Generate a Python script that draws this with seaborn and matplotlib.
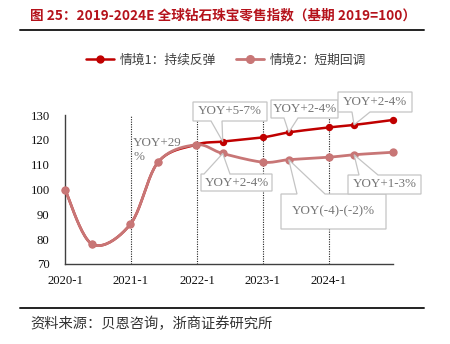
import numpy as np
import pandas as pd
import matplotlib
matplotlib.use("Agg")
import matplotlib.pyplot as plt
from matplotlib.patches import Polygon
from matplotlib.lines import Line2D
import seaborn as sns

# ---------------- data ----------------
period_pos = [0, 0.41, 0.99, 1.41, 1.98, 2.39, 3.0, 3.39, 4.0, 4.38, 4.97]
scenario1 = [100, 78, 86, 111, 118, 119.3, 121, 123, 125, 126, 128]
scenario2 = [100, 78, 86, 111, 118, 114.5, 111, 112, 113, 114, 115]
tick_pos = [0, 1, 2, 3, 4]
tick_labels = ["2020-1", "2021-1", "2022-1", "2023-1", "2024-1"]
series_names = ["情境1：持续反弹", "情境2：短期回调"]
title = "图 25：2019-2024E 全球钻石珠宝零售指数（基期 2019=100）"
source = "资料来源：贝恩咨询，浙商证券研究所"
note_29 = "YOY+29\n%"
callout_texts = ["YOY+5-7%", "YOY+2-4%", "YOY+2-4%", "YOY+2-4%", "YOY(-4)-(-2)%", "YOY+1-3%"]
callout_targets = [(5, 1), (7, 1), (9, 1), (5, 2), (7, 2), (9, 2)]  # (index, series)

RED = "#C00000"
PINK = "#C87676"
GRAY_TXT = "#767676"

sns.set_theme(style="white")
plt.rcParams["font.family"] = ["Liberation Serif", "Noto Sans CJK SC", "DejaVu Sans"]

W, H = 450, 344
fig = plt.figure(figsize=(W / 100, H / 100), dpi=100)
fig.patch.set_facecolor("white")

def fx(px):
    return px / W

def fy(py):
    return 1 - py / H

ax = fig.add_axes([fx(65), fy(264), (393 - 65) / W, (264 - 115) / H])
ax.set_facecolor("white")


def smooth(xs, ys, n=24):
    P = np.column_stack([xs, ys]).astype(float)
    out = []
    for i in range(len(P) - 1):
        p0 = P[i - 1] if i > 0 else P[i]
        p1, p2 = P[i], P[i + 1]
        p3 = P[i + 2] if i + 2 < len(P) else P[i + 1]
        b1 = p1 + (p2 - p0) / 6
        b2 = p2 - (p3 - p1) / 6
        t = np.linspace(0, 1, n)[:, None]
        seg = (1 - t) ** 3 * p1 + 3 * (1 - t) ** 2 * t * b1 + 3 * (1 - t) * t ** 2 * b2 + t ** 3 * p2
        out.append(seg if i == 0 else seg[1:])
    return np.vstack(out)

# dotted verticals
for xv in tick_pos[1:]:
    ax.plot([xv, xv], [70, 130], ls=(0, (1, 1.2)), color="#222222", lw=0.8, zorder=1)

series = [(scenario1, RED, 1.8, 28), (scenario2, PINK, 2.0, 36)]
for vals, col, lw, ms in series:
    sm = smooth(period_pos, vals)
    dfl = pd.DataFrame({"x": sm[:, 0], "y": sm[:, 1]})
    sns.lineplot(data=dfl, x="x", y="y", sort=False, estimator=None, color=col,
                 lw=lw, ax=ax, zorder=3, legend=False)
    dfp = pd.DataFrame({"x": period_pos, "y": vals})
    sns.scatterplot(data=dfp, x="x", y="y", color=col, s=ms, edgecolor=col,
                    linewidth=0, ax=ax, zorder=4, legend=False, clip_on=False)

ax.set_xlim(0, 4.97)
ax.set_ylim(70, 130)
ax.set_yticks(range(70, 131, 10))
ax.set_xticks(tick_pos)
ax.set_xticklabels(tick_labels)
ax.set_xlabel("")
ax.set_ylabel("")
for s in ["top", "right"]:
    ax.spines[s].set_visible(False)
for s in ["left", "bottom"]:
    ax.spines[s].set_color("#404040")
    ax.spines[s].set_linewidth(1.0)
ax.tick_params(axis="y", direction="out", length=3, width=0.8, color="#404040",
               pad=8, labelsize=9.2, labelcolor="#111111")
ax.tick_params(axis="x", direction="in", length=4, width=0.8, color="#404040",
               pad=8, labelsize=9.2, labelcolor="#111111")
ax.grid(False)
for lab in ax.get_xticklabels() + ax.get_yticklabels():
    lab.set_fontfamily("Liberation Serif")

fig.canvas.draw()


def data_to_px(x, y):
    dx, dy = ax.transData.transform((x, y))
    return dx, H - dy


def callout(text, box, base, side, tip):
    x0, y0, x1, y1 = box
    bx0, bx1 = base
    tx, ty = tip
    if side == "bottom":
        pts = [(x0, y0), (x1, y0), (x1, y1), (bx1, y1), (tx, ty), (bx0, y1), (x0, y1)]
    else:
        pts = [(x0, y0), (bx0, y0), (tx, ty), (bx1, y0), (x1, y0), (x1, y1), (x0, y1)]
    poly = Polygon([(fx(a), fy(b)) for a, b in pts], closed=True, transform=fig.transFigure,
                   facecolor="white", edgecolor="#c4c4c4", lw=0.9, zorder=5)
    fig.add_artist(poly)
    fig.text(fx((x0 + x1) / 2), fy((y0 + y1) / 2), text, ha="center", va="center",
             fontsize=9.4, color=GRAY_TXT, family="Liberation Serif", zorder=6)

boxes = [
    ((193, 102, 267, 121), (211, 222), "bottom"),
    ((271, 100, 338, 118), (284, 298), "bottom"),
    ((338, 92, 412, 112), (352, 370), "bottom"),
    ((201, 174, 272, 191), (204, 230), "top"),
    ((281, 194, 386, 229), (297, 325), "top"),
    ((348, 175, 421, 194), (359, 378), "top"),
]
all_series = {1: scenario1, 2: scenario2}
for txt, (idx, sid), (box, base, side) in zip(callout_texts, callout_targets, boxes):
    tip = data_to_px(period_pos[idx], all_series[sid][idx])
    callout(txt, box, base, side, tip)

fig.text(fx(133), fy(137), note_29, ha="left", va="top", fontsize=9.4, color=GRAY_TXT,
         family="Liberation Serif", linespacing=1.25, zorder=6)

# legend
handles = [Line2D([], [], color=RED, lw=1.8, marker="o", markersize=5),
           Line2D([], [], color=PINK, lw=2.0, marker="o", markersize=5.5)]
leg = fig.legend(handles, series_names, loc="center", bbox_to_anchor=(fx(226), fy(60)),
                 ncol=2, frameon=False, handlelength=2.2, handletextpad=0.4,
                 columnspacing=1.6, prop={"family": ["Noto Sans CJK SC", "DejaVu Sans"], "size": 9.2})
for t in leg.get_texts():
    t.set_color("#404040")

# title and rules
fig.text(fx(30), fy(15), title, ha="left", va="center", fontsize=9.8, fontweight="bold",
         color="#B5121B", family=["Noto Sans CJK SC", "DejaVu Sans"])
fig.add_artist(Line2D([fx(20), fx(424)], [fy(30), fy(30)], color="#222222", lw=1.4,
                      transform=fig.transFigure))
fig.add_artist(Line2D([fx(20), fx(424)], [fy(308), fy(308)], color="#222222", lw=1.4,
                      transform=fig.transFigure))
fig.text(fx(30), fy(324), source, ha="left", va="center", fontsize=10.3, color="#333333",
         family=["Noto Sans CJK SC", "DejaVu Sans"])

fig.savefig("out.png", dpi=100, facecolor="white")
